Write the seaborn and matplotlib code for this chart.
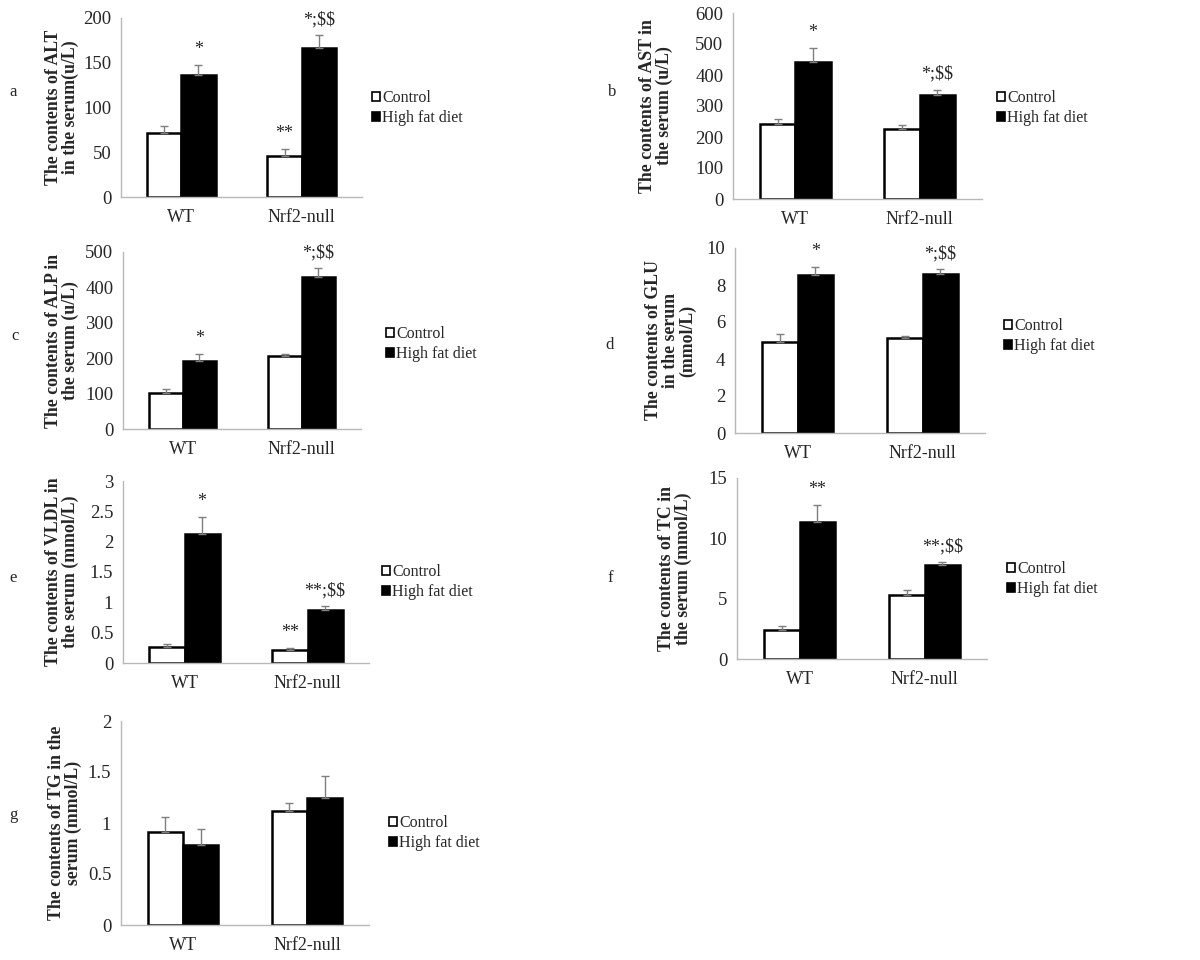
import pandas as pd
import numpy as np
import matplotlib.pyplot as plt
import seaborn as sns
from matplotlib.patches import Patch

# Serum biochemistry, mean and SE
groups = ['WT', 'Nrf2-null']
diets = ['Control', 'High fat diet']

alt_ctrl = [71, 46]
alt_hfd = [136, 166]
alt_ctrl_se = [8, 8]
alt_hfd_se = [11, 15]
alt_marks = [['', '**'], ['*', '*;$$']]

ast_ctrl = [242, 226]
ast_hfd = [442, 337]
ast_ctrl_se = [15, 13]
ast_hfd_se = [46, 16]
ast_marks = [['', ''], ['*', '*;$$']]

alp_ctrl = [103, 207]
alp_hfd = [193, 430]
alp_ctrl_se = [10, 6]
alp_hfd_se = [19, 25]
alp_marks = [['', ''], ['*', '*;$$']]

glu_ctrl = [4.9, 5.15]
glu_hfd = [8.52, 8.58]
glu_ctrl_se = [0.45, 0.11]
glu_hfd_se = [0.45, 0.28]
glu_marks = [['', ''], ['*', '*;$$']]

vldl_ctrl = [0.27, 0.21]
vldl_hfd = [2.12, 0.88]
vldl_ctrl_se = [0.04, 0.04]
vldl_hfd_se = [0.29, 0.06]
vldl_marks = [['', '**'], ['*', '**;$$']]

tc_ctrl = [2.38, 5.28]
tc_hfd = [11.35, 7.79]
tc_ctrl_se = [0.38, 0.47]
tc_hfd_se = [1.44, 0.25]
tc_marks = [['', ''], ['**', '**;$$']]

tg_ctrl = [0.91, 1.12]
tg_hfd = [0.78, 1.25]
tg_ctrl_se = [0.15, 0.08]
tg_hfd_se = [0.16, 0.21]
tg_marks = [['', ''], ['', '']]

panels = [
    ('a', 'The contents of ALT\nin the serum(u/L)', alt_ctrl, alt_hfd, alt_ctrl_se, alt_hfd_se, alt_marks,
     np.arange(0, 201, 50), None),
    ('b', 'The contents of AST in\nthe serum (u/L)', ast_ctrl, ast_hfd, ast_ctrl_se, ast_hfd_se, ast_marks,
     np.arange(0, 601, 100), None),
    ('c', 'The contents of ALP in\nthe serum (u/L)', alp_ctrl, alp_hfd, alp_ctrl_se, alp_hfd_se, alp_marks,
     np.arange(0, 501, 100), None),
    ('d', 'The contents of GLU\nin the serum\n(mmol/L)', glu_ctrl, glu_hfd, glu_ctrl_se, glu_hfd_se, glu_marks,
     np.arange(0, 11, 2), None),
    ('e', 'The contents of VLDL in\nthe serum (mmol/L)', vldl_ctrl, vldl_hfd, vldl_ctrl_se, vldl_hfd_se, vldl_marks,
     np.arange(0, 3.01, 0.5), ['0', '0.5', '1', '1.5', '2', '2.5', '3']),
    ('f', 'The contents of TC in\nthe serum (mmol/L)', tc_ctrl, tc_hfd, tc_ctrl_se, tc_hfd_se, tc_marks,
     np.arange(0, 16, 5), None),
    ('g', 'The contents of TG in the\nserum (mmol/L)', tg_ctrl, tg_hfd, tg_ctrl_se, tg_hfd_se, tg_marks,
     np.arange(0, 2.01, 0.5), ['0', '0.5', '1', '1.5', '2']),
]

# layout in pixels: axes box (x0, y0, x1, y1), ylabel centre x, legend anchor, panel letter
W, H = 1200, 960
layout = {
    'a': ((121, 18, 362, 197), 62, (372, 108), (13, 92)),
    'b': ((733, 13, 982, 199), 656, (997, 108), (612, 92)),
    'c': ((123, 252, 361, 429), 62, (386, 344), (15, 336)),
    'd': ((735, 248, 985, 433), 671, (1004, 336), (610, 345)),
    'e': ((123, 481, 369, 663), 62, (382, 582), (13, 578)),
    'f': ((737, 478, 987, 659), 675, (1007, 579), (610, 578)),
    'g': ((121, 721, 369, 925), 65, (389, 833), (13, 815)),
}

sns.set_style('white')
plt.rcParams['font.family'] = ['Liberation Serif', 'DejaVu Serif']

fig = plt.figure(figsize=(12, 9.6), dpi=100)
spine_col = '#b8b8b8'

for letter, ylabel, ctrl, hfd, ctrl_se, hfd_se, marks, yticks, ylabels in panels:
    box, lab_x, leg_pos, let_pos = layout[letter]
    x0, y0, x1, y1 = box
    ax = fig.add_axes([x0 / W, 1 - y1 / H, (x1 - x0) / W, (y1 - y0) / H])

    df = pd.DataFrame({
        'group': groups * 2,
        'diet': [diets[0]] * 2 + [diets[1]] * 2,
        'value': ctrl + hfd,
    })
    sns.barplot(data=df, x='group', y='value', hue='diet', order=groups, hue_order=diets,
                palette={'Control': 'white', 'High fat diet': 'black'},
                edgecolor='black', linewidth=1.8, width=0.57, errorbar=None,
                legend=False, ax=ax)

    # bars sorted left to right: WT-ctrl, WT-hfd, Nrf2-ctrl, Nrf2-hfd
    bars = sorted(ax.patches, key=lambda p: p.get_x())
    errs = [ctrl_se[0], hfd_se[0], ctrl_se[1], hfd_se[1]]
    labs = [marks[0][0], marks[1][0], marks[0][1], marks[1][1]]
    for p, e, t in zip(bars, errs, labs):
        xc = p.get_x() + p.get_width() / 2
        h = p.get_height()
        ax.errorbar(xc, h, yerr=[[0], [e]], color='#7f7f7f', lw=1, capsize=3, capthick=1, zorder=1)
        if t:
            ax.annotate(t, (xc, h + e), xytext=(0, 5), textcoords='offset points',
                        ha='center', va='bottom', fontsize=13, parse_math=False)

    ax.set_ylim(0, yticks[-1])
    ax.set_xlim(-0.5, 1.5)
    ax.set_yticks(yticks)
    if ylabels is not None:
        ax.set_yticklabels(ylabels)
    ax.set_xticks([0, 1])
    ax.set_xticklabels(groups)
    ax.set_xticks([-0.5, 0.5, 1.5], minor=True)
    ax.tick_params(axis='x', which='major', length=0, pad=9, labelsize=13)
    ax.tick_params(axis='x', which='minor', length=4, color=spine_col, direction='out')
    ax.tick_params(axis='y', length=4, color=spine_col, direction='out', pad=3, labelsize=13.5)
    ax.set_xlabel('')
    for s in ['top', 'right']:
        ax.spines[s].set_visible(False)
    for s in ['left', 'bottom']:
        ax.spines[s].set_color(spine_col)
        ax.spines[s].set_linewidth(1)

    ax.set_ylabel(ylabel, fontsize=12.8, fontweight='bold', va='center', ha='center', linespacing=1.0)
    ax.yaxis.set_label_coords((lab_x - x0) / (x1 - x0), 0.5)

    handles = [Patch(facecolor='white', edgecolor='black', lw=1.2),
               Patch(facecolor='black', edgecolor='black', lw=1.2)]
    fig.legend(handles, diets, loc='center left', bbox_to_anchor=(leg_pos[0] / W, 1 - leg_pos[1] / H),
               frameon=False, fontsize=11.5, handlelength=0.5, handleheight=0.5,
               handletextpad=0.15, labelspacing=0.25, borderpad=0, borderaxespad=0)

    fig.text(let_pos[0] / W, 1 - let_pos[1] / H, letter, fontsize=12, ha='center', va='center')

fig.savefig('out.png', dpi=100)
